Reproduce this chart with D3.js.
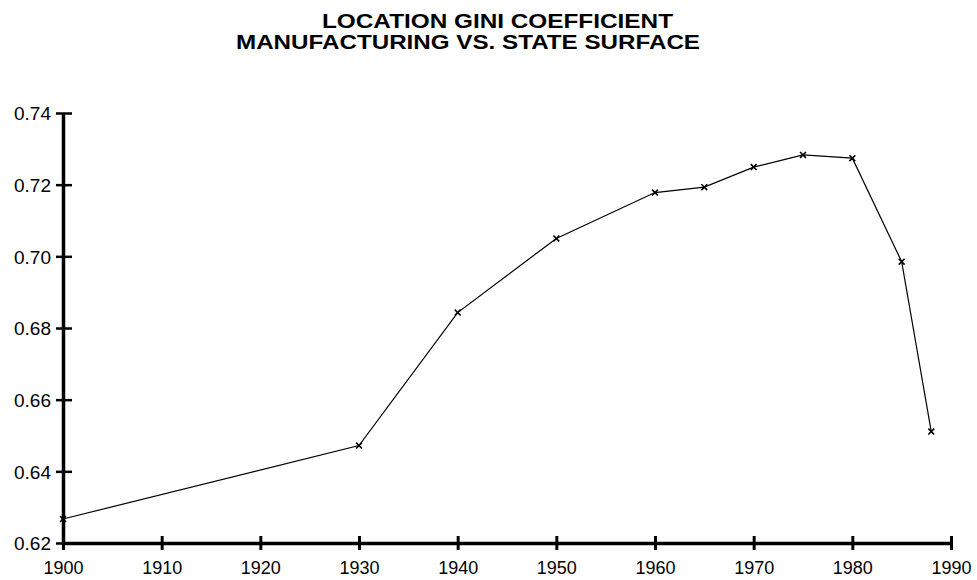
<!DOCTYPE html>
<html lang="en">
<head>
<meta charset="UTF-8">
<script src="https://cdn.jsdelivr.net/npm/d3@7"></script>
<title>Location Gini Coefficient</title>
<style>
  body { margin: 0; background: #fff; }
  text { font-family: "Liberation Sans", Arial, sans-serif; fill: #000; }
</style>
</head>
<body>
<script>
var years = [1900, 1930, 1940, 1950, 1960, 1965, 1970, 1975, 1980, 1985, 1988];
var gini  = [0.6267, 0.6472, 0.6843, 0.7050, 0.7178, 0.7193, 0.7249, 0.7283, 0.7274, 0.6985, 0.6511];
var xTicks = [1900, 1910, 1920, 1930, 1940, 1950, 1960, 1970, 1980, 1990];
var yTicks = [0.62, 0.64, 0.66, 0.68, 0.70, 0.72, 0.74];
var titleLines = ["LOCATION GINI COEFFICIENT", "MANUFACTURING VS. STATE SURFACE"];

var width = 977, height = 580;
var svg = d3.select("body").append("svg")
    .attr("width", width).attr("height", height);

var x = d3.scaleLinear().domain([1900, 1990]).range([63, 951]);
var y = d3.scaleLinear().domain([0.62, 0.74]).range([543, 113]);

// title (two lines, slightly offset like the original)
svg.append("text").attr("x", 322).attr("y", 28)
    .attr("font-size", "20px").attr("font-weight", "bold")
    .attr("textLength", 351).attr("lengthAdjust", "spacingAndGlyphs")
    .text(titleLines[0]);
svg.append("text").attr("x", 236).attr("y", 49)
    .attr("font-size", "20px").attr("font-weight", "bold")
    .attr("textLength", 464).attr("lengthAdjust", "spacingAndGlyphs")
    .text(titleLines[1]);

// axes
var xAxis = svg.append("g")
    .attr("transform", "translate(0," + y(0.62) + ")")
    .call(d3.axisBottom(x).tickValues(xTicks).tickSize(0).tickFormat(d3.format("d")));
xAxis.select(".domain").attr("stroke", "#000").attr("stroke-width", 3.5);
xAxis.selectAll(".tick line").remove();
xAxis.selectAll(".tick").append("line")
    .attr("y1", -7).attr("y2", 7)
    .attr("stroke", "#000").attr("stroke-width", 3);
xAxis.selectAll(".tick text")
    .attr("y", 31).attr("dy", 0)
    .attr("font-size", "18px")
    .attr("font-family", "Liberation Sans, Arial, sans-serif");

var yAxis = svg.append("g")
    .attr("transform", "translate(" + x(1900) + ",0)")
    .call(d3.axisLeft(y).tickValues(yTicks).tickSize(0).tickFormat(d3.format(".2f")));
yAxis.select(".domain").attr("stroke", "#000").attr("stroke-width", 3.5);
yAxis.selectAll(".tick line").remove();
yAxis.selectAll(".tick").append("line")
    .attr("x1", -7).attr("x2", 9)
    .attr("stroke", "#000").attr("stroke-width", 2.5);
yAxis.selectAll(".tick text")
    .attr("x", -12).attr("dy", "0.36em")
    .attr("font-size", "19px")
    .attr("font-family", "Liberation Sans, Arial, sans-serif");

// line
var data = years.map(function(d, i) { return {year: d, v: gini[i]}; });
var line = d3.line()
    .x(function(d) { return x(d.year); })
    .y(function(d) { return y(d.v); });

svg.append("path").datum(data)
    .attr("fill", "none")
    .attr("stroke", "#000")
    .attr("stroke-width", 1.2)
    .attr("d", line);

// markers
var sym = d3.symbol().type(d3.symbolX || d3.symbolCross).size(24);
svg.selectAll(".pt").data(data).enter()
    .append("path")
    .attr("class", "pt")
    .attr("transform", function(d) { return "translate(" + x(d.year) + "," + y(d.v) + ")"; })
    .attr("d", sym)
    .attr("fill", "none")
    .attr("stroke", "#000")
    .attr("stroke-width", 1.6);
</script>
</body>
</html>
